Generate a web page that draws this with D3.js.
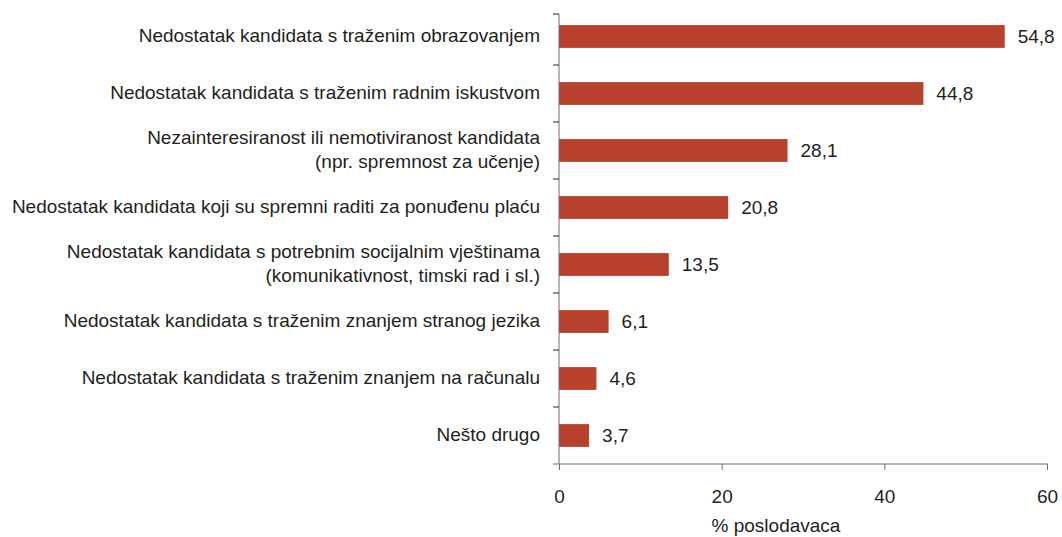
<!DOCTYPE html>
<html>
<head>
<meta charset="utf-8">
<script src="https://cdn.jsdelivr.net/npm/d3@7"></script>
<style>
  body { margin: 0; background: #fff; }
  text { font-family: "Liberation Sans", Arial, sans-serif; fill: #231f20; }
</style>
</head>
<body>
<script>
// data
var categories = [
  ["Nedostatak kandidata s traženim obrazovanjem"],
  ["Nedostatak kandidata s traženim radnim iskustvom"],
  ["Nezainteresiranost ili nemotiviranost kandidata", "(npr. spremnost za učenje)"],
  ["Nedostatak kandidata koji su spremni raditi za ponuđenu plaću"],
  ["Nedostatak kandidata s potrebnim socijalnim vještinama", "(komunikativnost, timski rad i sl.)"],
  ["Nedostatak kandidata s traženim znanjem stranog jezika"],
  ["Nedostatak kandidata s traženim znanjem na računalu"],
  ["Nešto drugo"]
];
var values = [54.8, 44.8, 28.1, 20.8, 13.5, 6.1, 4.6, 3.7];
var xTicks = [0, 20, 40, 60];
var xTitle = "% poslodavaca";

var svgWidth = 1062;
var svgHeight = 537;
var x0 = 559, x1 = 1047;
var yTop = 8, yBottom = 464;
var barColor = "#b7412c";
var axisColor = "#6d6e71";
var fontSize = "19px";

var svg = d3.select("body")
  .append("svg")
  .attr("width", svgWidth)
  .attr("height", svgHeight);

var keys = categories.map(function(d, i) { return i; });

var xScale = d3.scaleLinear()
  .domain([0, 60])
  .range([x0, x1]);

var yScale = d3.scaleBand()
  .domain(keys)
  .range([yTop, yBottom])
  .paddingInner(0.6)
  .paddingOuter(0.3);

// bars
svg.selectAll(".bar")
  .data(values)
  .enter()
  .append("rect")
  .attr("class", "bar")
  .attr("x", xScale(0))
  .attr("y", function(d, i) { return yScale(i); })
  .attr("width", function(d) { return xScale(d) - xScale(0); })
  .attr("height", yScale.bandwidth())
  .attr("fill", barColor);

// value labels
svg.selectAll(".val")
  .data(values)
  .enter()
  .append("text")
  .attr("class", "val")
  .attr("x", function(d) { return xScale(d) + 13; })
  .attr("y", function(d, i) { return yScale(i) + yScale.bandwidth() / 2; })
  .attr("dy", "0.36em")
  .style("font-size", fontSize)
  .text(function(d) { return d.toFixed(1).replace(".", ","); });

// category labels
var lab = svg.selectAll(".cat")
  .data(categories)
  .enter()
  .append("text")
  .attr("class", "cat")
  .attr("text-anchor", "end")
  .style("font-size", fontSize)
  .attr("transform", function(d, i) {
    return "translate(540," + (yScale(i) + yScale.bandwidth() / 2 - 1) + ")";
  });

lab.selectAll("tspan")
  .data(function(d) { return d; })
  .enter()
  .append("tspan")
  .attr("x", 0)
  .attr("y", function(d, j, nodes) {
    var n = nodes.length;
    return (j - (n - 1) / 2) * 24;
  })
  .attr("dy", "0.36em")
  .text(function(d) { return d; });

// x axis
var xAxis = svg.append("g")
  .attr("transform", "translate(0," + yBottom + ")")
  .call(d3.axisBottom(xScale).tickValues(xTicks).tickSize(6).tickSizeOuter(0).tickPadding(20));
xAxis.select(".domain").remove();
xAxis.selectAll("line").attr("stroke", axisColor);
xAxis.selectAll("text")
  .style("font-size", fontSize)
  .style("font-family", "'Liberation Sans', Arial, sans-serif")
  .attr("fill", "#231f20");
svg.append("line")
  .attr("x1", x0 - 6).attr("x2", x1 + 1)
  .attr("y1", yBottom).attr("y2", yBottom)
  .attr("stroke", axisColor);

// y axis with ticks at category boundaries
svg.append("line")
  .attr("x1", x0).attr("x2", x0)
  .attr("y1", 14).attr("y2", yBottom)
  .attr("stroke", axisColor);
var bounds = keys.slice(1).map(function(i) { return yScale(i) - yScale.step() * yScale.paddingInner() / 2; });
bounds.unshift(14);
svg.selectAll(".ytick")
  .data(bounds)
  .enter()
  .append("line")
  .attr("class", "ytick")
  .attr("x1", x0 - 6).attr("x2", x0)
  .attr("y1", function(d) { return d; })
  .attr("y2", function(d) { return d; })
  .attr("stroke", "#231f20");

// axis title
svg.append("text")
  .attr("x", 776)
  .attr("y", 532)
  .attr("text-anchor", "middle")
  .style("font-size", fontSize)
  .text(xTitle);
</script>
</body>
</html>
